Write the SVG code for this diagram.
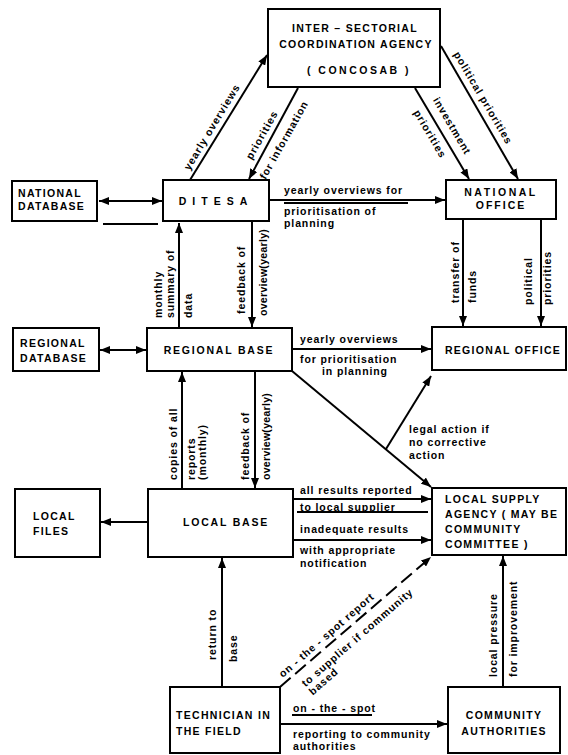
<svg xmlns="http://www.w3.org/2000/svg" width="568" height="755" viewBox="0 0 568 755">
  <style>
    .box { fill: #fff; stroke: #000; stroke-width: 2; }
    .bt { font-family: "Liberation Sans", Arial, sans-serif; font-weight: bold; font-size: 10.5px; letter-spacing: 1.3px; fill: #000; }
    .lb { font-family: "Liberation Sans", Arial, sans-serif; font-weight: bold; font-size: 10.5px; letter-spacing: 0.9px; fill: #000; }
    .tight { letter-spacing: 0.3px; }
    .c { stroke: #000; stroke-width: 2; fill: none; }
    .dash { stroke-dasharray: 14 6; }
  </style>
  <defs>
    <marker id="ah" viewBox="0 0 10 8" refX="10" refY="4" markerWidth="10" markerHeight="8" markerUnits="userSpaceOnUse" orient="auto-start-reverse">
      <path d="M0,0 L10,4 L0,8 z" fill="#000"/>
    </marker>
  </defs>
  <rect width="568" height="755" fill="#fff"/>

  <!-- connectors -->
  <g id="connectors">
    <line class="c" x1="99" y1="201" x2="162" y2="201" marker-start="url(#ah)" marker-end="url(#ah)"/>
    <line class="c" x1="103" y1="224" x2="158" y2="224"/>
    <line class="c" x1="190" y1="180" x2="267" y2="55" marker-end="url(#ah)"/>
    <line class="c" x1="298" y1="88" x2="249" y2="179" marker-end="url(#ah)"/>
    <line class="c" x1="415" y1="88" x2="469" y2="179" marker-end="url(#ah)"/>
    <line class="c" x1="441" y1="46" x2="518" y2="179" marker-end="url(#ah)"/>
    <line class="c" x1="269" y1="200" x2="445" y2="200" marker-end="url(#ah)"/>
    <line class="c" x1="284" y1="203" x2="408" y2="203"/>
    <line class="c" x1="179" y1="327" x2="179" y2="223" marker-end="url(#ah)"/>
    <line class="c" x1="252" y1="221" x2="252" y2="327" marker-end="url(#ah)"/>
    <line class="c" x1="463" y1="219" x2="463" y2="326" marker-end="url(#ah)"/>
    <line class="c" x1="541" y1="219" x2="541" y2="326" marker-end="url(#ah)"/>
    <line class="c" x1="100" y1="350" x2="146" y2="350" marker-start="url(#ah)" marker-end="url(#ah)"/>
    <line class="c" x1="292" y1="349" x2="431" y2="349" marker-end="url(#ah)"/>
    <line class="c" x1="292" y1="371" x2="431" y2="487" marker-end="url(#ah)"/>
    <line class="c" x1="386" y1="449" x2="431" y2="376" marker-end="url(#ah)"/>
    <line class="c" x1="182" y1="488" x2="182" y2="372" marker-end="url(#ah)"/>
    <line class="c" x1="255" y1="371" x2="255" y2="488" marker-end="url(#ah)"/>
    <line class="c" x1="148" y1="522" x2="101" y2="522" marker-end="url(#ah)"/>
    <line class="c" x1="293" y1="499" x2="431" y2="499" marker-end="url(#ah)"/>
    <line class="c" x1="297" y1="512" x2="428" y2="512"/>
    <line class="c" x1="293" y1="540" x2="431" y2="540" marker-end="url(#ah)"/>
    <line class="c" x1="222" y1="687" x2="222" y2="558" marker-end="url(#ah)"/>
    <line class="c dash" x1="280" y1="687" x2="431" y2="557" marker-end="url(#ah)"/>
    <line class="c" x1="280" y1="724" x2="447" y2="724" marker-end="url(#ah)"/>
    <line class="c" x1="292" y1="715" x2="372" y2="715"/>
    <line class="c" x1="503" y1="687" x2="503" y2="556" marker-end="url(#ah)"/>
  </g>

  <!-- connector labels -->
  <g id="labels" class="lb">
    <text transform="translate(212,127) rotate(-58.8)" text-anchor="middle" y="3.5">yearly overviews</text>
    <text transform="translate(262,135) rotate(-60.6)" text-anchor="middle" y="3.5">priorities</text>
    <text transform="translate(284,140) rotate(-60.6)" text-anchor="middle" y="3.5">for information</text>
    <text transform="translate(452,126) rotate(59.5)" text-anchor="middle" y="3.5">investment</text>
    <text transform="translate(430,134) rotate(59.5)" text-anchor="middle" y="3.5">priorities</text>
    <text transform="translate(483,98) rotate(59.5)" text-anchor="middle" y="3.5">political priorities</text>

    <text x="284" y="194">yearly overviews for</text>
    <text x="284" y="215">prioritisation of</text>
    <text x="284" y="227">planning</text>

    <text transform="rotate(-90 162 318)" x="162" y="318">monthly</text>
    <text transform="rotate(-90 174 318)" x="174" y="318">summary of</text>
    <text transform="rotate(-90 192 318)" x="192" y="318">data</text>
    <text transform="rotate(-90 245 314)" x="245" y="314">feedback of</text>
    <text class="tight" transform="rotate(-90 267 316)" x="267" y="316">overview(yearly)</text>

    <text transform="rotate(-90 459 303)" x="459" y="303">transfer of</text>
    <text transform="rotate(-90 476 303)" x="476" y="303">funds</text>
    <text transform="rotate(-90 532 305)" x="532" y="305">political</text>
    <text transform="rotate(-90 551 305)" x="551" y="305">priorities</text>

    <text x="300" y="343">yearly overviews</text>
    <text x="300" y="363">for prioritisation</text>
    <text x="322" y="375">in planning</text>

    <text x="409" y="433">legal action if</text>
    <text x="409" y="446">no corrective</text>
    <text x="409" y="459">action</text>

    <text transform="rotate(-90 177 480)" x="177" y="480">copies of all</text>
    <text transform="rotate(-90 195 480)" x="195" y="480">reports</text>
    <text transform="rotate(-90 206 480)" x="206" y="480">(monthly)</text>
    <text transform="rotate(-90 249 480)" x="249" y="480">feedback of</text>
    <text class="tight" transform="rotate(-90 270 480)" x="270" y="480">overview(yearly)</text>

    <text x="300" y="494">all results reported</text>
    <text x="300" y="511">to local supplier</text>
    <text x="300" y="533">inadequate results</text>
    <text x="300" y="554">with appropriate</text>
    <text x="300" y="567">notification</text>

    <text transform="rotate(-90 216 660)" x="216" y="660">return to</text>
    <text transform="rotate(-90 237 662)" x="237" y="662">base</text>

    <g transform="translate(280,687) rotate(-41)">
      <text x="8" y="-5">on - the - spot report</text>
      <text x="19" y="17">to supplier if community</text>
      <text x="19" y="28">based</text>
    </g>

    <text transform="rotate(-90 497 677)" x="497" y="677">local pressure</text>
    <text transform="rotate(-90 517 677)" x="517" y="677">for improvement</text>

    <text x="293" y="712">on - the - spot</text>
    <text x="293" y="738">reporting to community</text>
    <text x="293" y="750">authorities</text>
  </g>

  <!-- nodes -->
  <g id="concosab">
    <rect class="box" x="268" y="9" width="172" height="78"/>
    <text class="bt" x="355" y="32" text-anchor="middle">INTER – SECTORIAL</text>
    <text class="bt" x="356" y="48" text-anchor="middle">COORDINATION AGENCY</text>
    <text class="bt" x="359" y="74" text-anchor="middle" style="letter-spacing:2.5px">( CONCOSAB )</text>
  </g>
  <g id="national-database">
    <rect class="box" x="12" y="181" width="85" height="40"/>
    <text class="bt" x="18" y="197">NATIONAL</text>
    <text class="bt" x="18" y="210">DATABASE</text>
  </g>
  <g id="ditesa">
    <rect class="box" x="163" y="180" width="106" height="41"/>
    <text class="bt" x="216" y="205" text-anchor="middle" style="letter-spacing:6px">DITESA</text>
  </g>
  <g id="national-office">
    <rect class="box" x="446" y="180" width="110" height="39"/>
    <text class="bt" x="501" y="196" text-anchor="middle" style="letter-spacing:2.5px">NATIONAL</text>
    <text class="bt" x="501" y="209" text-anchor="middle" style="letter-spacing:2px">OFFICE</text>
  </g>
  <g id="regional-database">
    <rect class="box" x="13" y="328" width="86" height="43"/>
    <text class="bt" x="20" y="347">REGIONAL</text>
    <text class="bt" x="20" y="362">DATABASE</text>
  </g>
  <g id="regional-base">
    <rect class="box" x="147" y="328" width="145" height="43"/>
    <text class="bt" x="219" y="354" text-anchor="middle" style="letter-spacing:1.8px">REGIONAL  BASE</text>
  </g>
  <g id="regional-office">
    <rect class="box" x="432" y="327" width="134" height="43"/>
    <text class="bt" x="503" y="354" text-anchor="middle">REGIONAL OFFICE</text>
  </g>
  <g id="local-files">
    <rect class="box" x="15" y="489" width="85" height="68"/>
    <text class="bt" x="33" y="520">LOCAL</text>
    <text class="bt" x="33" y="535">FILES</text>
  </g>
  <g id="local-base">
    <rect class="box" x="148" y="489" width="145" height="68"/>
    <text class="bt" x="226" y="526" text-anchor="middle" style="letter-spacing:1.8px">LOCAL  BASE</text>
  </g>
  <g id="local-supply-agency">
    <rect class="box" x="432" y="488" width="134" height="67"/>
    <text class="bt" x="445" y="503">LOCAL SUPPLY</text>
    <text class="bt" x="445" y="518">AGENCY ( MAY BE</text>
    <text class="bt" x="445" y="533">COMMUNITY</text>
    <text class="bt" x="445" y="548">COMMITTEE )</text>
  </g>
  <g id="technician">
    <rect class="box" x="170" y="687" width="110" height="66"/>
    <text class="bt" x="176" y="719">TECHNICIAN IN</text>
    <text class="bt" x="176" y="735">THE FIELD</text>
  </g>
  <g id="community-authorities">
    <rect class="box" x="448" y="687" width="112" height="66"/>
    <text class="bt" x="504" y="719" text-anchor="middle">COMMUNITY</text>
    <text class="bt" x="504" y="735" text-anchor="middle">AUTHORITIES</text>
  </g>
</svg>
